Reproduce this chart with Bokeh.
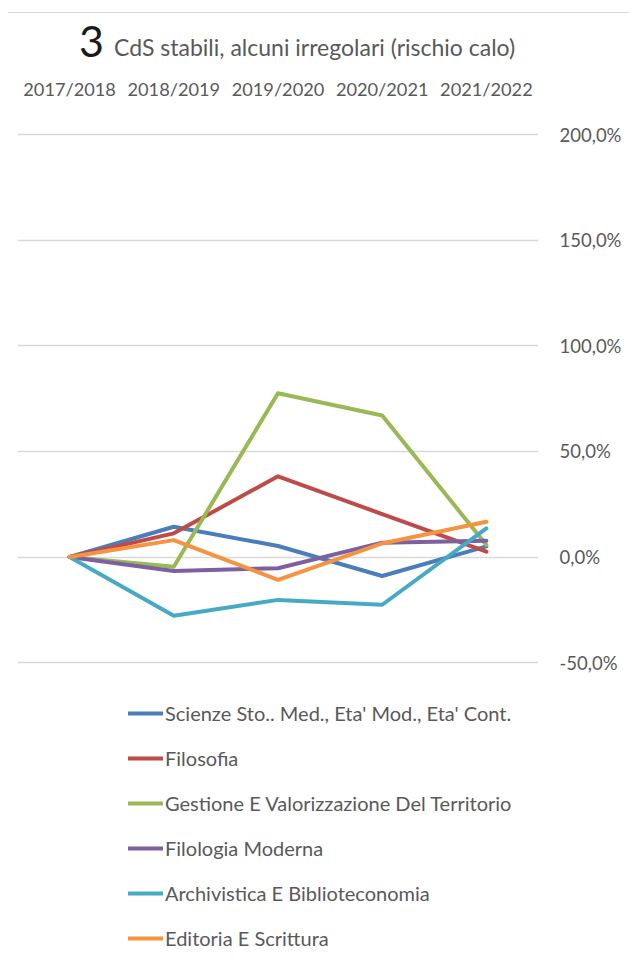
from bokeh.plotting import figure
from bokeh.models import FixedTicker, Legend, LegendItem, Div
from bokeh.layouts import column
from bokeh.embed import file_html
from bokeh.resources import INLINE

# ---- data ----
YEARS = ["2017/2018", "2018/2019", "2019/2020", "2020/2021", "2021/2022"]
SERIES_NAMES = [
    "Scienze Sto.. Med., Eta' Mod., Eta' Cont.",
    "Filosofia",
    "Gestione E Valorizzazione Del Territorio",
    "Filologia Moderna",
    "Archivistica E Biblioteconomia",
    "Editoria E Scrittura",
]
scienze = [0.0, 14.3, 5.2, -9.0, 5.0]
filosofia = [0.0, 11.2, 38.2, 20.3, 2.5]
gestione = [0.0, -4.6, 77.5, 67.0, 5.7]
filologia = [0.0, -6.6, -5.3, 6.8, 7.7]
archivistica = [0.0, -27.8, -20.3, -22.6, 13.5]
editoria = [0.0, 8.0, -10.8, 6.4, 16.7]
Y_TICKS = [-50, 0, 50, 100, 150, 200]
Y_TICK_LABELS = ["-50,0%", "0,0%", "50,0%", "100,0%", "150,0%", "200,0%"]
TITLE_NUM = "3"
TITLE_TEXT = "CdS stabili, alcuni irregolari (rischio calo)"

COLORS = ["#4A7EBB", "#BE4B48", "#98B954", "#7D60A0", "#46AAC5", "#F69240"]
VALUES = [scienze, filosofia, gestione, filologia, archivistica, editoria]

# ---- geometry ----
W = 629
DIV_H = 62
FIG_H = 898
FRAME_LEFT, FRAME_RIGHT = 17, 538          # figure px
FRAME_TOP = 68                             # figure px
FRAME_BOTTOM = FIG_H
PX_PER_PCT = 2.1125
TOP_TICK_Y = 72                            # 200% gridline, figure px
y_end = 200 + (TOP_TICK_Y - FRAME_TOP) / PX_PER_PCT
y_start = 200 - (FRAME_BOTTOM - TOP_TICK_Y) / PX_PER_PCT

# ---- title block ----
html = f"""
<div style="position:relative;width:{W}px;height:{DIV_H}px;font-family:Lato;">
  <div style="position:absolute;left:8px;top:12px;width:{W-8}px;height:0;border-top:1px solid #D9D9D9;"></div>
  <span style="position:absolute;left:79px;top:14.6px;font-size:43px;line-height:1.2;color:#1A1A1A;white-space:nowrap;">{TITLE_NUM}</span>
  <span style="position:absolute;left:114px;top:34.3px;font-size:23px;line-height:1.2;color:#595959;white-space:nowrap;">{TITLE_TEXT}</span>
</div>
"""
title_div = Div(text=html, width=W, height=DIV_H, margin=(0, 0, 0, 0))

p = figure(
    width=W, height=FIG_H,
    x_range=YEARS, y_range=(y_start, y_end),
    x_axis_location="above", y_axis_location="right",
    output_backend="svg", toolbar_location=None,
    min_border_left=FRAME_LEFT, min_border_right=W - FRAME_RIGHT,
    min_border_top=FRAME_TOP, min_border_bottom=0,
    margin=(0, 0, 0, 0),
)
p.x_range.range_padding = 0
p.outline_line_color = None
p.background_fill_color = "white"
p.border_fill_color = "white"

# grid
p.xgrid.grid_line_color = None
p.ygrid.grid_line_color = "#D9D9D9"
p.ygrid.grid_line_width = 1.3
p.ygrid.ticker = FixedTicker(ticks=Y_TICKS)

# axes
xa = p.xaxis[0]
xa.axis_line_color = None
xa.major_tick_line_color = None
xa.minor_tick_line_color = None
xa.major_tick_out = 0
xa.major_tick_in = 0
xa.major_label_text_font = "Lato"
xa.major_label_text_font_size = "18.2px"
xa.major_label_text_color = "#595959"
xa.major_label_standoff = 31

ya = p.yaxis[0]
ya.ticker = FixedTicker(ticks=Y_TICKS)
ya.major_label_overrides = {t: l for t, l in zip(Y_TICKS, Y_TICK_LABELS)}
ya.axis_line_color = None
ya.major_tick_line_color = None
ya.minor_tick_line_color = None
ya.major_tick_out = 0
ya.major_tick_in = 0
ya.major_label_text_font = "Lato"
ya.major_label_text_font_size = "18.5px"
ya.major_label_text_color = "#595959"
ya.major_label_standoff = 21

items = []
for name, vals, col in zip(SERIES_NAMES, VALUES, COLORS):
    r = p.line(YEARS, vals, line_color=col, line_width=4,
               line_join="round", line_cap="round")
    items.append(LegendItem(label=name, renderers=[r]))

legend = Legend(
    items=items, location=(111, 7),
    glyph_width=35, glyph_height=30, label_height=30, spacing=15,
    label_standoff=2, padding=0, margin=0,
    border_line_color=None, background_fill_alpha=0,
    label_text_font="Lato", label_text_font_size="20px",
    label_text_color="#595959",
)
p.add_layout(legend, "center")

layout = column(title_div, p, spacing=0)
open("out.html", "w").write(file_html(layout, INLINE))
